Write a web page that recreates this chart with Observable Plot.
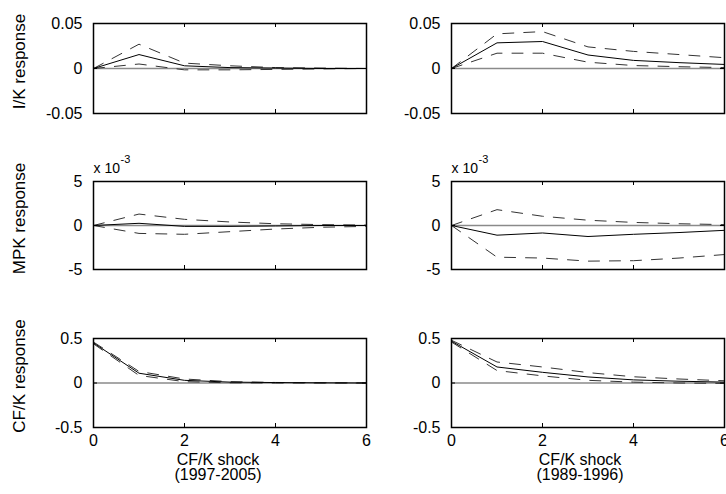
<!DOCTYPE html>
<html>
<head>
<meta charset="utf-8">
<script src="https://cdn.jsdelivr.net/npm/d3@7"></script>
<script src="https://cdn.jsdelivr.net/npm/@observablehq/plot@0.6"></script>
<style>
  html, body { margin: 0; padding: 0; background: #fff; }
  #chart { position: relative; width: 726px; height: 494px; overflow: hidden; background: #fff; }
  #chart > div { position: absolute; }
  #chart svg { overflow: visible; display: block; }
</style>
</head>
<body>
<div id="chart"></div>
<script>
// Horizon (periods after shock)
const steps = [0, 1, 2, 3, 4, 5, 6];
const xTicks = [0, 2, 4, 6];

// I/K response to CF/K shock
const ikEarlyMid = [0, 0.0155, 0.003, 0.001, 0.0005, 0, 0];          // 1997-2005
const ikEarlyUp  = [0, 0.027, 0.006, 0.003, 0.001, 0.0005, 0];
const ikEarlyLo  = [0, 0.005, -0.0015, -0.0015, -0.001, -0.0005, 0];
const ikLateMid  = [0, 0.0285, 0.030, 0.015, 0.009, 0.0065, 0.0045]; // 1989-1996
const ikLateUp   = [0, 0.0385, 0.041, 0.024, 0.019, 0.0155, 0.012];
const ikLateLo   = [0, 0.017, 0.017, 0.007, 0.0033, 0.002, 0.001];

// MPK response (in units of 10^-3)
const mpkEarlyMid = [0, 0.25, -0.1, -0.1, -0.05, 0, 0];
const mpkEarlyUp  = [0, 1.3, 0.7, 0.4, 0.2, 0.1, 0.05];
const mpkEarlyLo  = [0, -0.9, -1.0, -0.7, -0.4, -0.2, -0.1];
const mpkLateMid  = [0, -1.1, -0.85, -1.25, -1.0, -0.8, -0.55];
const mpkLateUp   = [0, 1.8, 1.05, 0.6, 0.35, 0.2, 0.1];
const mpkLateLo   = [0, -3.6, -3.7, -4.05, -4.0, -3.7, -3.3];

// CF/K response
const cfEarlyMid = [0.45, 0.11, 0.03, 0.01, 0.005, 0.002, 0];
const cfEarlyUp  = [0.46, 0.13, 0.045, 0.015, 0.006, 0.003, 0.001];
const cfEarlyLo  = [0.44, 0.085, 0.015, 0.002, 0, 0, 0];
const cfLateMid  = [0.47, 0.18, 0.12, 0.068, 0.035, 0.02, 0.01];
const cfLateUp   = [0.48, 0.236, 0.18, 0.117, 0.07, 0.045, 0.025];
const cfLateLo   = [0.46, 0.14, 0.08, 0.03, 0.01, 0, -0.005];

// Axis texts
const yLabels = ["I/K response", "MPK response", "CF/K response"];
const yTicksIK = [-0.05, 0, 0.05];
const yTicksMPK = [-5, 0, 5];
const yTicksCF = [-0.5, 0, 0.5];
const shockLabel = "CF/K shock";
const periods = ["(1997-2005)", "(1989-1996)"];
const scaleNote = "x 10";
const scaleExp = "-3";

const FONT = "'Liberation Sans', Arial, Helvetica, sans-serif";
const FW = 273; // frame width
const cols = [
  {left: 0, width: 395, frameLeft: 93, xlabDx: -12},
  {left: 395, width: 331, frameLeft: 451, xlabDx: -8}
];
const rows = [
  {top: 0, height: 140, frameTop: 23, frameH: 90},
  {top: 140, height: 160, frameTop: 181, frameH: 88},
  {top: 300, height: 194, frameTop: 338, frameH: 89}
];

const panels = [
  {r: 0, c: 0, mid: ikEarlyMid, up: ikEarlyUp, lo: ikEarlyLo, ticks: yTicksIK},
  {r: 0, c: 1, mid: ikLateMid, up: ikLateUp, lo: ikLateLo, ticks: yTicksIK},
  {r: 1, c: 0, mid: mpkEarlyMid, up: mpkEarlyUp, lo: mpkEarlyLo, ticks: yTicksMPK, note: true},
  {r: 1, c: 1, mid: mpkLateMid, up: mpkLateUp, lo: mpkLateLo, ticks: yTicksMPK, note: true},
  {r: 2, c: 0, mid: cfEarlyMid, up: cfEarlyUp, lo: cfEarlyLo, ticks: yTicksCF},
  {r: 2, c: 1, mid: cfLateMid, up: cfLateUp, lo: cfLateLo, ticks: yTicksCF}
];

const chart = document.getElementById("chart");

for (const p of panels) {
  const col = cols[p.c], row = rows[p.r];
  const mL = col.frameLeft - col.left;
  const mR = col.width - mL - FW;
  const mT = row.frameTop - row.top;
  const mB = row.height - mT - row.frameH;
  const H = row.frameH;
  const yd = [p.ticks[0], p.ticks[2]];
  const dash = {stroke: "#333", strokeWidth: 1, strokeDasharray: "11,10"};
  const marks = [
    Plot.ruleY([0], {stroke: "#8a8a8a", strokeWidth: 1.5}),
    Plot.lineY(p.up, {x: steps, ...dash}),
    Plot.lineY(p.lo, {x: steps, ...dash}),
    Plot.lineY(p.mid, {x: steps, stroke: "#000", strokeWidth: 1}),
    // inward ticks (all four sides)
    Plot.tickX([2, 4], {x: d => d, insetTop: H - 4, stroke: "#000"}),
    Plot.tickX([2, 4], {x: d => d, insetBottom: H - 4, stroke: "#000"}),
    Plot.tickY([0], {y: d => d, insetRight: FW - 4, stroke: "#000"}),
    Plot.tickY([0], {y: d => d, insetLeft: FW - 4, stroke: "#000"}),
    Plot.frame({stroke: "#000", strokeWidth: 1.5}),
    Plot.axisY({ticks: p.ticks, tickSize: 0, tickPadding: 11, tickFormat: d => String(d), label: null, fontSize: 16})
  ];
  if (p.r === 2) {
    marks.push(Plot.axisX({ticks: xTicks, tickSize: 0, tickPadding: 7, tickFormat: d => String(d), label: null, fontSize: 16}));
    marks.push(Plot.text([shockLabel + "\n" + periods[p.c]], {frameAnchor: "bottom", textAnchor: "middle", dx: col.xlabDx, dy: 40, lineAnchor: "middle", lineHeight: 0.97, fontSize: 16, fill: "#000"}));
  } else {
    marks.push(Plot.axisX({ticks: xTicks, tickSize: 0, tickFormat: () => "", label: null}));
  }
  if (p.c === 0) {
    marks.push(Plot.text([yLabels[p.r]], {frameAnchor: "left", textAnchor: "middle", rotate: -90, dx: -74, dy: -7, lineAnchor: "middle", fontSize: 17, fill: "#000"}));
  }
  if (p.note) {
    marks.push(Plot.text([scaleNote], {frameAnchor: "top-left", textAnchor: "start", lineAnchor: "middle", dx: 0, dy: -13, fontSize: 14, fill: "#000"}));
    marks.push(Plot.text([scaleExp], {frameAnchor: "top-left", textAnchor: "start", lineAnchor: "middle", dx: 27, dy: -22, fontSize: 11, fill: "#000"}));
  }
  const svg = Plot.plot({
    width: col.width,
    height: row.height,
    marginLeft: mL, marginRight: mR, marginTop: mT, marginBottom: mB,
    x: {domain: [0, 6]},
    y: {domain: yd},
    style: {fontFamily: FONT, fontSize: "16px", color: "#000", background: "transparent"},
    marks
  });
  const wrap = document.createElement("div");
  wrap.style.left = col.left + "px";
  wrap.style.top = row.top + "px";
  wrap.appendChild(svg);
  chart.appendChild(wrap);
}
</script>
</body>
</html>
